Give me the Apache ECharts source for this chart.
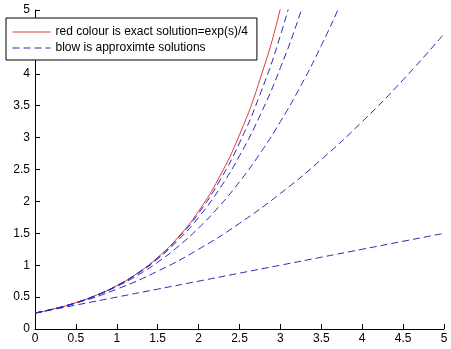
<!DOCTYPE html>
<html><head><meta charset="utf-8">
<script src="https://cdn.jsdelivr.net/npm/echarts@6/dist/echarts.min.js"></script>
<style>html,body{margin:0;padding:0;background:#fff}#c{width:451px;height:349px}</style>
</head><body><div id="c"></div>
<script>
const xTicks = [0, 0.5, 1, 1.5, 2, 2.5, 3, 3.5, 4, 4.5, 5];
const yTicks = [0, 0.5, 1, 1.5, 2, 2.5, 3, 3.5, 4, 4.5, 5];
const exactName = 'red colour is exact solution=exp(s)/4';
const approxName = 'blow is approximte solutions';

const sQuarter = [0, 0.25, 0.5, 0.75, 1, 1.25, 1.5, 1.75, 2, 2.25, 2.5, 2.75, 3, 3.25, 3.5, 3.75, 4];
const sHalf = [0, 0.5, 1, 1.5, 2, 2.5, 3, 3.5, 4, 4.5, 5];

const exact = [0.25, 0.3210, 0.4122, 0.5293, 0.6796, 0.8726, 1.1204, 1.4387, 1.8473, 2.3719, 3.0456, 3.9107, 5.0214, 6.4474];
const approx1 = [0.25, 0.375, 0.5, 0.625, 0.75, 0.875, 1.0, 1.125, 1.25, 1.375, 1.5];
const approx2 = [0.25, 0.40625, 0.625, 0.90625, 1.25, 1.65625, 2.125, 2.65625, 3.25, 3.90625, 4.625];
const approx3 = [0.25, 0.32096, 0.41146, 0.52539, 0.66667, 0.83919, 1.04688, 1.29362, 1.58333, 1.91992, 2.30729, 2.74935, 3.25, 3.81315, 4.44271, 5.14258, 5.91667];
const approx4 = [0.25, 0.32100, 0.41211, 0.52869, 0.67708, 0.86463, 1.09961, 1.39132, 1.75, 2.18689, 2.71419, 3.34510, 4.09375, 4.97530, 6.00586];
const approx5 = [0.25, 0.32100, 0.41217, 0.52918, 0.67917, 0.87098, 1.11543, 1.42551, 1.81667, 2.30703, 2.91764, 3.67276, 4.6, 5.73070];

function pairs(xs, ys) { return ys.map((y, i) => [xs[i], y]); }

const font = 'Liberation Sans, Arial, sans-serif';
const blue = '#2a2ab8';
const red = '#dd3b3b';
const dash = [7, 4];

function blueSeries(xs, ys) {
  return {
    name: approxName, type: 'line', data: pairs(xs, ys), smooth: true, symbol: 'none',
    lineStyle: { color: blue, width: 1, type: dash }, itemStyle: { color: blue }, clip: true, silent: true
  };
}

const chart = echarts.init(document.getElementById('c'), null, { renderer: 'canvas' });
chart.setOption({
  animation: false,
  backgroundColor: '#fff',
  grid: { left: 35, right: 7, top: 10, bottom: 20 },
  xAxis: {
    type: 'value', min: 0, max: 5, interval: 0.5,
    axisLine: { lineStyle: { color: '#000', width: 1 } },
    axisTick: { inside: true, length: 5, lineStyle: { color: '#000' } },
    axisLabel: { color: '#000', fontSize: 12, fontFamily: font, margin: 4, formatter: v => String(v) },
    splitLine: { show: false }
  },
  yAxis: {
    type: 'value', min: 0, max: 5, interval: 0.5,
    axisLine: { show: true, lineStyle: { color: '#000', width: 1 } },
    axisTick: { show: true, inside: true, length: 5, lineStyle: { color: '#000' } },
    axisLabel: { color: '#000', fontSize: 12, fontFamily: font, margin: 5, formatter: v => String(v) },
    splitLine: { show: false }
  },
  legend: {
    data: [exactName, approxName],
    orient: 'vertical', left: 6, top: 18,
    backgroundColor: '#fff', borderColor: '#000', borderWidth: 1,
    padding: [8, 9, 6, 6], itemGap: 4, itemWidth: 38, itemHeight: 14,
    itemStyle: { opacity: 0 },
    lineStyle: { width: 1 },
    textStyle: { color: '#000', fontSize: 12, fontFamily: font },
    selectedMode: false
  },
  series: [
    {
      name: exactName, type: 'line', data: pairs(sQuarter, exact), smooth: true, symbol: 'none',
      lineStyle: { color: red, width: 1 }, itemStyle: { color: red }, clip: true, silent: true
    },
    blueSeries(sHalf, approx1),
    blueSeries(sHalf, approx2),
    blueSeries(sQuarter, approx3),
    blueSeries(sQuarter, approx4),
    blueSeries(sQuarter, approx5)
  ]
});
</script></body></html>
